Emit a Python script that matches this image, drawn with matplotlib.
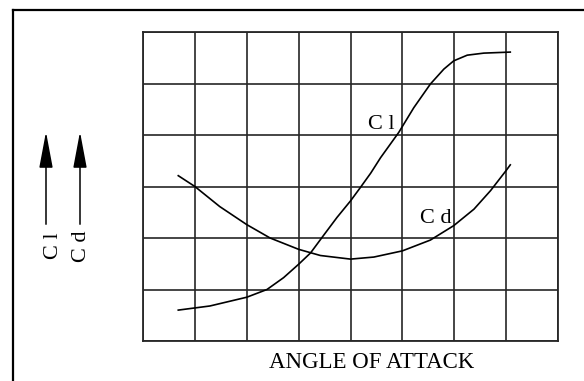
import matplotlib
matplotlib.use("Agg")
import matplotlib.pyplot as plt
from matplotlib.lines import Line2D
from matplotlib.patches import FancyArrowPatch

# values (grid units: 8 columns x 6 rows)
cl_x = [0.68, 1.29, 2.0, 2.39, 2.71, 3.0, 3.23, 3.48, 3.74, 4.0, 4.19, 4.39,
        4.58, 4.93, 5.22, 5.54, 5.80, 5.99, 6.25, 6.57, 7.08]
cl_y = [0.60, 0.68, 0.85, 1.0, 1.23, 1.49, 1.71, 2.05, 2.40, 2.72, 2.98, 3.26,
        3.56, 4.05, 4.53, 4.99, 5.28, 5.44, 5.55, 5.59, 5.61]

cd_x = [0.68, 1.0, 1.48, 2.0, 2.45, 3.0, 3.42, 4.0, 4.45, 5.0, 5.54, 5.99,
        6.38, 6.70, 7.0, 7.08]
cd_y = [3.21, 3.0, 2.61, 2.26, 2.0, 1.78, 1.66, 1.59, 1.63, 1.75, 1.96, 2.24,
        2.56, 2.92, 3.31, 3.42]

curve_labels = ["C l", "C d"]
label_pos = [(4.59, 4.21), (5.64, 2.37)]
x_label = "ANGLE OF ATTACK"

plt.rcParams['font.family'] = ['Liberation Serif', 'DejaVu Serif']

W, H = 584, 381
fig = plt.figure(figsize=(W / 100, H / 100), dpi=100)

# plot area in pixels: x 143..558, y 32..341
ax = fig.add_axes([143 / W, 1 - 341 / H, 415 / W, 309 / H])
ax.set_xlim(0, 8)
ax.set_ylim(0, 6)
ax.set_xticks(range(9))
ax.set_yticks(range(7))
ax.tick_params(length=0, labelbottom=False, labelleft=False)
ax.grid(True, color='#262626', lw=1.2)
for s in ax.spines.values():
    s.set_color('#262626')
    s.set_linewidth(1.3)

ax.plot(cl_x, cl_y, color='black', lw=1.2, zorder=3, solid_joinstyle='round')
ax.plot(cd_x, cd_y, color='black', lw=1.2, zorder=3, solid_joinstyle='round')

for txt, (tx, ty) in zip(curve_labels, label_pos):
    ax.text(tx, ty, txt, fontsize=16, ha='center', va='center', zorder=4)

fig.text(372 / W, 1 - 363 / H, x_label, fontsize=16.5, ha='center', va='center')

# vertical axis: two arrows with rotated labels
for ax_x, tx_x, txt in [(46, 53.5, "C l"), (80, 81.5, "C d")]:
    fig.add_artist(FancyArrowPatch(
        (ax_x / W, 1 - 227 / H), (ax_x / W, 1 - 129 / H),
        transform=fig.transFigure,
        arrowstyle='-|>,head_length=1.6,head_width=0.3',
        mutation_scale=14, color='black', lw=1.1))
    fig.text(tx_x / W, 1 - 246 / H, txt, fontsize=16, rotation=90,
             ha='center', va='center')

# outer frame (top and left edges visible)
fig.add_artist(Line2D([13 / W, 1], [1 - 10 / H, 1 - 10 / H],
                      transform=fig.transFigure, color='black', lw=1.6))
fig.add_artist(Line2D([13 / W, 13 / W], [0, 1 - 10 / H],
                      transform=fig.transFigure, color='black', lw=1.6))

fig.savefig("out.png", dpi=100)
